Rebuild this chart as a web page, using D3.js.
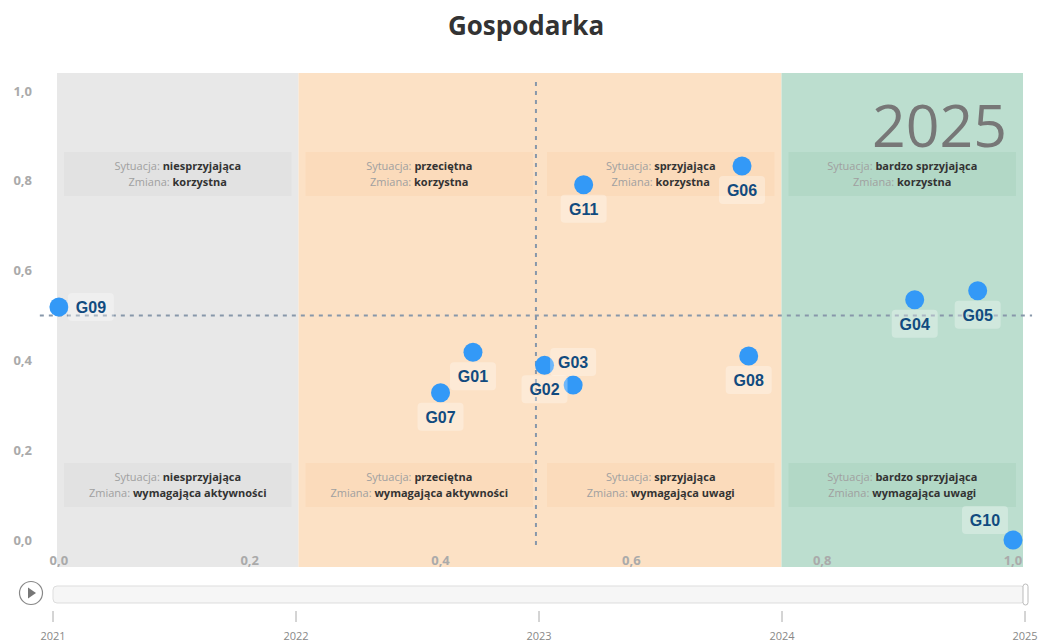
<!DOCTYPE html>
<html>
<head>
<meta charset="utf-8">
<script src="https://cdn.jsdelivr.net/npm/d3@7"></script>
<style>
  html, body { margin: 0; padding: 0; background: #fff; }
  svg { display: block; }
</style>
</head>
<body>
<script>
// data
const pointIds = ["G01", "G02", "G03", "G04", "G05", "G06", "G07", "G08", "G09", "G10", "G11"];
const xValues  = [0.434, 0.509, 0.539, 0.897, 0.963, 0.716, 0.400, 0.723, 0.000, 1.000, 0.550];
const yValues  = [0.418, 0.389, 0.345, 0.535, 0.555, 0.833, 0.328, 0.410, 0.519, 0.000, 0.791];
// where each label sits relative to its point
const labelSide = ["below", "below", "above", "below", "below", "below", "below", "below", "right", "aboveLeft", "below"];

const xTicks = [0, 0.2, 0.4, 0.6, 0.8, 1.0];
const yTicks = [0, 0.2, 0.4, 0.6, 0.8, 1.0];
const xDomain = [-0.002, 1.0105];
const yDomain = [-0.06, 1.04];
const midValue = 0.5;
const refLineExtent = [-0.02, 1.02];

const situations = ["niesprzyjająca", "przeciętna", "sprzyjająca", "bardzo sprzyjająca"];
const changesTop = ["korzystna", "korzystna", "korzystna", "korzystna"];
const changesBottom = ["wymagająca aktywności", "wymagająca aktywności", "wymagająca uwagi", "wymagająca uwagi"];

const years = [2021, 2022, 2023, 2024, 2025];
const currentYear = 2025;
const chartTitle = "Gospodarka";

// layout
const W = 1038, H = 643;
const plot = { left: 57, right: 1023, top: 73, bottom: 567 };

const x = d3.scaleLinear().domain(xDomain).range([plot.left, plot.right]);
const y = d3.scaleLinear().domain(yDomain).range([plot.bottom, plot.top]);
// quarters of the plot width for the background bands
const q = d3.scaleLinear().domain([0, 4]).range([plot.left, plot.right]);

const bandFill = ["#e8e8e8", "#fce1c5", "#fce1c5", "#bcdecf"];
const boxFill  = ["#e2e2e2", "#fbdbbb", "#fbdbbb", "#b2d8c6"];
const fmt = v => d3.format(".1f")(v).replace(".", ",");

const svg = d3.select("body").append("svg")
  .attr("width", W)
  .attr("height", H);

// title
svg.append("text")
  .attr("x", 526).attr("y", 35)
  .attr("text-anchor", "middle")
  .style("font-family", "'Open Sans', sans-serif")
  .style("font-size", "26px")
  .style("font-weight", "bold")
  .style("fill", "#333")
  .text(chartTitle);

// background bands
svg.append("g").selectAll("rect")
  .data(d3.range(4))
  .enter().append("rect")
  .attr("x", i => q(i))
  .attr("y", plot.top)
  .attr("width", i => q(i + 1) - q(i))
  .attr("height", plot.bottom - plot.top)
  .attr("fill", i => bandFill[i]);

// big year label
svg.append("text")
  .attr("x", 1007).attr("y", 147)
  .attr("text-anchor", "end")
  .style("font-family", "'Open Sans', sans-serif")
  .style("font-size", "59px")
  .style("fill", "#777")
  .text(currentYear);

// quadrant description boxes
const boxes = [];
d3.range(4).forEach(i => {
  boxes.push({ i, top: plot.top + 79, change: changesTop[i] });
  boxes.push({ i, top: plot.bottom - 104, change: changesBottom[i] });
});

const boxG = svg.append("g").selectAll("g")
  .data(boxes)
  .enter().append("g");

boxG.append("rect")
  .attr("x", d => q(d.i) + 7)
  .attr("y", d => d.top)
  .attr("width", d => q(d.i + 1) - q(d.i) - 14)
  .attr("height", 44)
  .attr("fill", d => boxFill[d.i]);

const line1 = boxG.append("text")
  .attr("x", d => (q(d.i) + q(d.i + 1)) / 2)
  .attr("y", d => d.top + 18)
  .attr("text-anchor", "middle")
  .style("font-family", "'Open Sans', sans-serif")
  .style("font-size", "11px");
line1.append("tspan").style("fill", "#a0a0a0").text("Sytuacja: ");
line1.append("tspan").style("fill", "#333").style("font-weight", "bold").text(d => situations[d.i]);

const line2 = boxG.append("text")
  .attr("x", d => (q(d.i) + q(d.i + 1)) / 2)
  .attr("y", d => d.top + 34)
  .attr("text-anchor", "middle")
  .style("font-family", "'Open Sans', sans-serif")
  .style("font-size", "11px");
line2.append("tspan").style("fill", "#a0a0a0").text("Zmiana: ");
line2.append("tspan").style("fill", "#333").style("font-weight", "bold").text(d => d.change);

// axis labels
svg.append("g").selectAll("text")
  .data(yTicks)
  .enter().append("text")
  .attr("x", 32)
  .attr("y", d => y(d))
  .attr("dy", "0.35em")
  .attr("text-anchor", "end")
  .style("font-family", "'Open Sans', sans-serif")
  .style("font-size", "13px")
  .style("font-weight", "bold")
  .style("fill", "#aaa")
  .text(fmt);

svg.append("g").selectAll("text")
  .data(xTicks)
  .enter().append("text")
  .attr("x", d => x(d))
  .attr("y", 565)
  .attr("text-anchor", "middle")
  .style("font-family", "'Open Sans', sans-serif")
  .style("font-size", "13px")
  .style("font-weight", "bold")
  .style("fill", "#aaa")
  .text(fmt);

// reference lines at 0.5
svg.append("line")
  .attr("x1", x(midValue)).attr("x2", x(midValue))
  .attr("y1", y(refLineExtent[1])).attr("y2", y(refLineExtent[0]))
  .attr("stroke", "#8797aa")
  .attr("stroke-width", 2)
  .attr("stroke-dasharray", "4,5");
svg.append("line")
  .attr("x1", x(refLineExtent[0])).attr("x2", x(refLineExtent[1]))
  .attr("y1", y(midValue)).attr("y2", y(midValue))
  .attr("stroke", "#8797aa")
  .attr("stroke-width", 2)
  .attr("stroke-dasharray", "4,5");

// points
const points = pointIds.map((id, i) => ({ id, x: xValues[i], y: yValues[i], side: labelSide[i] }));

svg.append("g").selectAll("circle")
  .data(points)
  .enter().append("circle")
  .attr("cx", d => x(d.x))
  .attr("cy", d => y(d.y))
  .attr("r", 9.5)
  .attr("fill", "#3399f7");

// label offsets for each placement
const offset = {
  below: [0, 24],
  above: [0, -23],
  right: [32, 0],
  aboveLeft: [-28, -20]
};

const lab = svg.append("g").selectAll("g")
  .data(points)
  .enter().append("g")
  .attr("transform", d => `translate(${x(d.x) + offset[d.side][0]},${y(d.y) + offset[d.side][1]})`);

lab.append("rect")
  .attr("x", -23).attr("y", -14)
  .attr("width", 46).attr("height", 28)
  .attr("rx", 4)
  .attr("fill", "#fff")
  .attr("fill-opacity", 0.3);

lab.append("text")
  .attr("text-anchor", "middle")
  .attr("dy", "0.36em")
  .style("font-family", "'Liberation Sans', Arial, sans-serif")
  .style("font-size", "16px")
  .style("font-weight", "bold")
  .style("fill", "#114b7f")
  .text(d => d.id);

// time slider
const sx = d3.scaleLinear().domain([years[0], years[years.length - 1]]).range([53, 1025]);

const play = svg.append("g").attr("transform", "translate(31,593)");
play.append("circle")
  .attr("r", 11.5)
  .attr("fill", "#fff")
  .attr("stroke", "#888")
  .attr("stroke-width", 1.2);
play.append("path")
  .attr("d", "M-3,-5.5 L5,0 L-3,5.5 Z")
  .attr("fill", "#777");

svg.append("rect")
  .attr("x", sx(years[0])).attr("y", 586)
  .attr("width", sx(years[years.length - 1]) - sx(years[0]))
  .attr("height", 17)
  .attr("rx", 4)
  .attr("fill", "#f6f6f6")
  .attr("stroke", "#ddd");

svg.append("rect")
  .attr("x", sx(currentYear) - 2).attr("y", 584)
  .attr("width", 5).attr("height", 21)
  .attr("rx", 2.5)
  .attr("fill", "#fff")
  .attr("stroke", "#bbb");

const yearG = svg.append("g").selectAll("g")
  .data(years)
  .enter().append("g")
  .attr("transform", d => `translate(${sx(d)},0)`);

yearG.append("line")
  .attr("y1", 611).attr("y2", 622)
  .attr("stroke", "#aaa");

yearG.append("text")
  .attr("y", 640)
  .attr("text-anchor", "middle")
  .style("font-family", "'Open Sans', sans-serif")
  .style("font-size", "11px")
  .style("fill", "#888")
  .text(d => d);
</script>
</body>
</html>
